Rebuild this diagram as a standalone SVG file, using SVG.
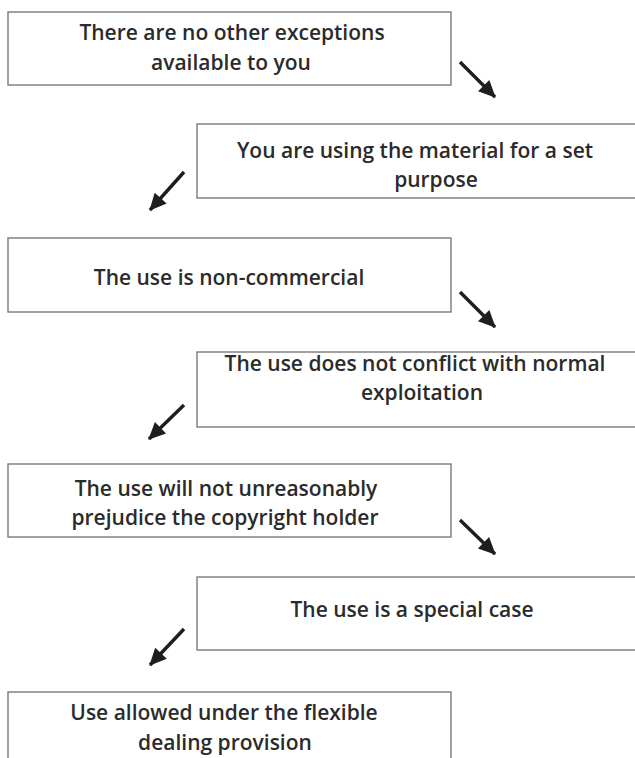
<svg xmlns="http://www.w3.org/2000/svg" width="635" height="758" viewBox="0 0 635 758">
  <style>
    .box { fill: #ffffff; stroke: #7a7a7a; stroke-width: 1.4; }
    .t { font-family: "Open Sans", Lato, "DejaVu Sans", sans-serif; font-weight: 600; font-size: 21px; fill: #2b2b2b; text-anchor: middle; }
    .arrow { stroke: #1e1e1e; stroke-width: 3.4; fill: none; marker-end: url(#head); }
  </style>
  <defs>
    <marker id="head" markerUnits="userSpaceOnUse" markerWidth="20" markerHeight="20" viewBox="0 0 20 20" refX="18" refY="10" orient="auto">
      <path d="M2,2 L19,10 L2,18 Z" fill="#1e1e1e"/>
    </marker>
  </defs>
  <rect width="635" height="758" fill="#ffffff"/>

  <g id="node1">
    <rect class="box" x="8" y="12" width="443" height="73"/>
    <text class="t" x="232" y="40">There are no other exceptions</text>
    <text class="t" x="231" y="70">available to you</text>
  </g>
  <g id="node2">
    <rect class="box" x="197" y="124" width="445" height="74"/>
    <text class="t" x="415" y="158">You are using the material for a set</text>
    <text class="t" x="436" y="187">purpose</text>
  </g>
  <g id="node3">
    <rect class="box" x="8" y="238" width="443" height="74"/>
    <text class="t" x="229" y="285">The use is non-commercial</text>
  </g>
  <g id="node4">
    <rect class="box" x="197" y="352" width="445" height="75"/>
    <text class="t" x="415" y="371">The use does not conflict with normal</text>
    <text class="t" x="422" y="400">exploitation</text>
  </g>
  <g id="node5">
    <rect class="box" x="8" y="464" width="443" height="73"/>
    <text class="t" x="226" y="496">The use will not unreasonably</text>
    <text class="t" x="225" y="525">prejudice the copyright holder</text>
  </g>
  <g id="node6">
    <rect class="box" x="197" y="577" width="445" height="73"/>
    <text class="t" x="412" y="617">The use is a special case</text>
  </g>
  <g id="node7">
    <rect class="box" x="8" y="692" width="443" height="80"/>
    <text class="t" x="224" y="720">Use allowed under the flexible</text>
    <text class="t" x="225" y="750">dealing provision</text>
  </g>

  <g id="connectors">
    <line class="arrow" x1="460" y1="62" x2="495" y2="97"/>
    <line class="arrow" x1="184" y1="172" x2="150" y2="210"/>
    <line class="arrow" x1="460" y1="292" x2="495" y2="327"/>
    <line class="arrow" x1="184" y1="405" x2="149" y2="439"/>
    <line class="arrow" x1="460" y1="520" x2="495" y2="554"/>
    <line class="arrow" x1="184" y1="629" x2="150" y2="665"/>
  </g>
</svg>
